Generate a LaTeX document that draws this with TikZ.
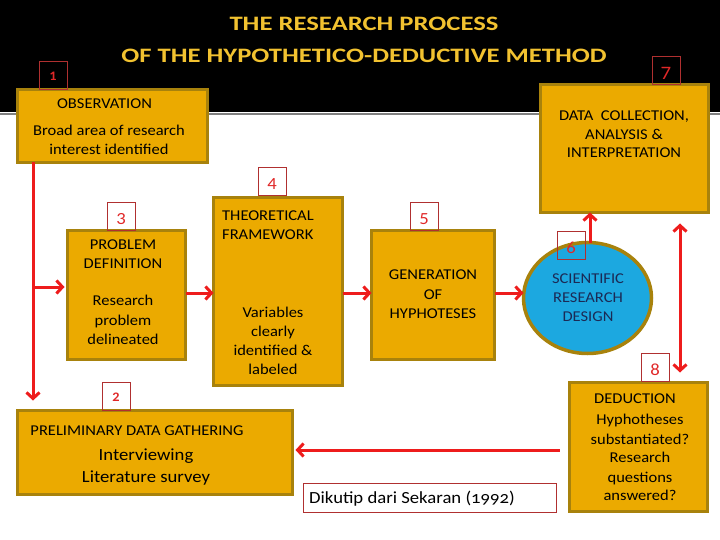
\documentclass[tikz,border=0pt]{standalone}
\usepackage{fontspec}
\setmainfont{Carlito}[FakeStretch=1.1]
\newfontfamily\oldnumfont{Carlito}[FakeStretch=1.1,Numbers=OldStyle]
\newfontfamily\titlefont{Carlito}[FakeStretch=1.3]
\usetikzlibrary{arrows.meta,shapes.geometric}
\definecolor{gold}{HTML}{EBAA00}
\definecolor{goldedge}{HTML}{A8820C}
\definecolor{arrowred}{HTML}{EE1C1C}
\definecolor{labred}{HTML}{B03030}
\definecolor{digitred}{HTML}{E02828}
\definecolor{titlegold}{HTML}{F2C230}
\definecolor{skyblue}{HTML}{1CA8E0}
\definecolor{navy}{HTML}{1B2A55}
\tikzset{
  goldbox/.style={draw=goldedge, fill=gold, line width=3.5pt, inner sep=0pt, outer sep=0pt},
  numbox/.style={draw=labred, line width=0.8pt, minimum size=28pt, inner sep=0pt,
    font=\fontsize{17}{19}\selectfont, text=digitred, text height=16pt, text depth=0pt},
  smallnum/.style={font=\fontsize{13}{15}\selectfont\bfseries, text height=11pt},
  bignum/.style={font=\fontsize{19}{21}\selectfont, text height=18pt},
  txt/.style={anchor=base, inner sep=0pt, font=\fontsize{15}{18}\selectfont},
  bigtxt/.style={anchor=base, inner sep=0pt, font=\fontsize{17}{20}\selectfont},
  ttl/.style={anchor=base, inner sep=0pt, font=\fontsize{20.5}{24}\selectfont\titlefont\bfseries, text=titlegold},
  redarrow/.style={draw=arrowred, line width=3pt, -{Straight Barb[length=6pt,width=13pt]}},
  redboth/.style={draw=arrowred, line width=3pt, {Straight Barb[length=6pt,width=13pt]}-{Straight Barb[length=6pt,width=13pt]}},
}
\begin{document}
\begin{tikzpicture}[x=1pt,y=-1pt]
\useasboundingbox (0,0) rectangle (720,540);
% header
\fill[black] (0,0) rectangle (720,112);
\draw[gray, line width=2pt] (0,114) -- (720,114);
\node[ttl] (t1) at (364,30.5) {THE RESEARCH PROCESS};
\node[ttl] (t2) at (364,62.5) {OF THE HYPOTHETICO-DEDUCTIVE METHOD};
% boxes
\node[goldbox, minimum width=190pt, minimum height=73pt] (b1) at (112.5,126) {};
\node[goldbox, minimum width=168pt, minimum height=128pt] (b7) at (624.5,148.5) {};
\node[goldbox, minimum width=118pt, minimum height=129pt] (b3) at (126.5,295) {};
\node[goldbox, minimum width=129pt, minimum height=188pt] (b4) at (278,291.5) {};
\node[goldbox, minimum width=123pt, minimum height=129pt] (b5) at (433,295) {};
\node[goldbox, ellipse, fill=skyblue, minimum width=128pt, minimum height=111pt] (e6) at (587.5,298) {};
\node[goldbox, minimum width=138pt, minimum height=129pt] (b8) at (638.5,447) {};
\node[goldbox, minimum width=275pt, minimum height=84pt] (b2) at (155,452.5) {};
\node[draw=labred, line width=1pt, fill=white, minimum width=253pt, minimum height=29pt, inner sep=0pt] (src) at (429.5,497.5) {};
% texts
\node[txt] (o1) at (104.5,109) {OBSERVATION};
\node[txt] (o2) at (109,136) {Broad area of research};
\node[txt] (o3) at (109,155) {interest identified};
\node[txt] (d1) at (624,121) {DATA\ \ COLLECTION,};
\node[txt] (d2) at (624,140) {ANALYSIS \&};
\node[txt] (d3) at (624,158) {INTERPRETATION};
\node[txt] (p1) at (123,249) {PROBLEM};
\node[txt] (p2) at (123,268) {DEFINITION};
\node[txt] (p3) at (123,305) {Research};
\node[txt] (p4) at (123,325) {problem};
\node[txt] (p5) at (123,344) {delineated};
\node[txt, anchor=base west] (f1) at (222,221) {THEORETICAL};
\node[txt, anchor=base west] (f2) at (222,240) {FRAMEWORK};
\node[txt] (f3) at (273,317) {Variables};
\node[txt] (f4) at (273,336) {clearly};
\node[txt] (f5) at (273,355) {identified \&};
\node[txt] (f6) at (273,374) {labeled};
\node[txt] (g1) at (433,279) {GENERATION};
\node[txt] (g2) at (433,299) {OF};
\node[txt] (g3) at (433,318) {HYPHOTESES};
\node[txt, text=navy] (s1) at (588,283) {SCIENTIFIC};
\node[txt, text=navy] (s2) at (588,302) {RESEARCH};
\node[txt, text=navy] (s3) at (588,321) {DESIGN};
\node[txt] (k1) at (635,403) {DEDUCTION};
\node[txt] (k2) at (640,424) {Hyphotheses};
\node[txt] (k3) at (640,444) {substantiated?};
\node[txt] (k4) at (640,462) {Research};
\node[txt] (k5) at (640,482) {questions};
\node[txt] (k6) at (640,500) {answered?};
\node[txt] (r1) at (137,435) {PRELIMINARY DATA GATHERING};
\node[bigtxt] (r2) at (146,460) {Interviewing};
\node[bigtxt] (r3) at (146,482) {Literature survey};
\node[bigtxt, font=\fontsize{17}{20}\selectfont\oldnumfont] (src1) at (412,503.5) {Dikutip dari Sekaran (1992)};
% number labels
\node[numbox, smallnum] (n1) at (53,75) {1};
\node[numbox, bignum] (n7) at (666,70.5) {7};
\node[numbox] (n4) at (272,181.5) {4};
\node[numbox] (n3) at (121,216.5) {3};
\node[numbox] (n5) at (424,216.5) {5};
\node[numbox] (n6) at (571,245) {6};
\node[numbox] (n8) at (655,367.5) {8};
\node[numbox, smallnum] (n2) at (116,396) {2};
% connectors
\coordinate (vx) at (33,0);
\coordinate (br) at (33,287);
\coordinate (ry) at (0,293);
\coordinate (ux) at (590,0);
\coordinate (dx) at (680,0);
\coordinate (ly) at (0,450);
\draw[redarrow, shorten >=10pt] (b1.south -| vx) -- (b2.north -| vx);
\draw[redarrow, shorten >=3pt] (br) -- (b3.west |- br);
\draw[redarrow] (b3.east |- ry) -- (b4.west |- ry);
\draw[redarrow] (b4.east |- ry) -- (b5.west |- ry);
\draw[redarrow] (b5.east |- ry) -- (e6.west |- ry);
\draw[redarrow] (e6.north -| ux) -- (b7.south -| ux);
\draw[redboth, shorten <=11pt, shorten >=10pt] (b7.south -| dx) -- (b8.north -| dx);
\draw[redarrow, shorten <=10pt, shorten >=3pt] (b8.west |- ly) -- (b2.east |- ly);
\end{tikzpicture}
\end{document}
